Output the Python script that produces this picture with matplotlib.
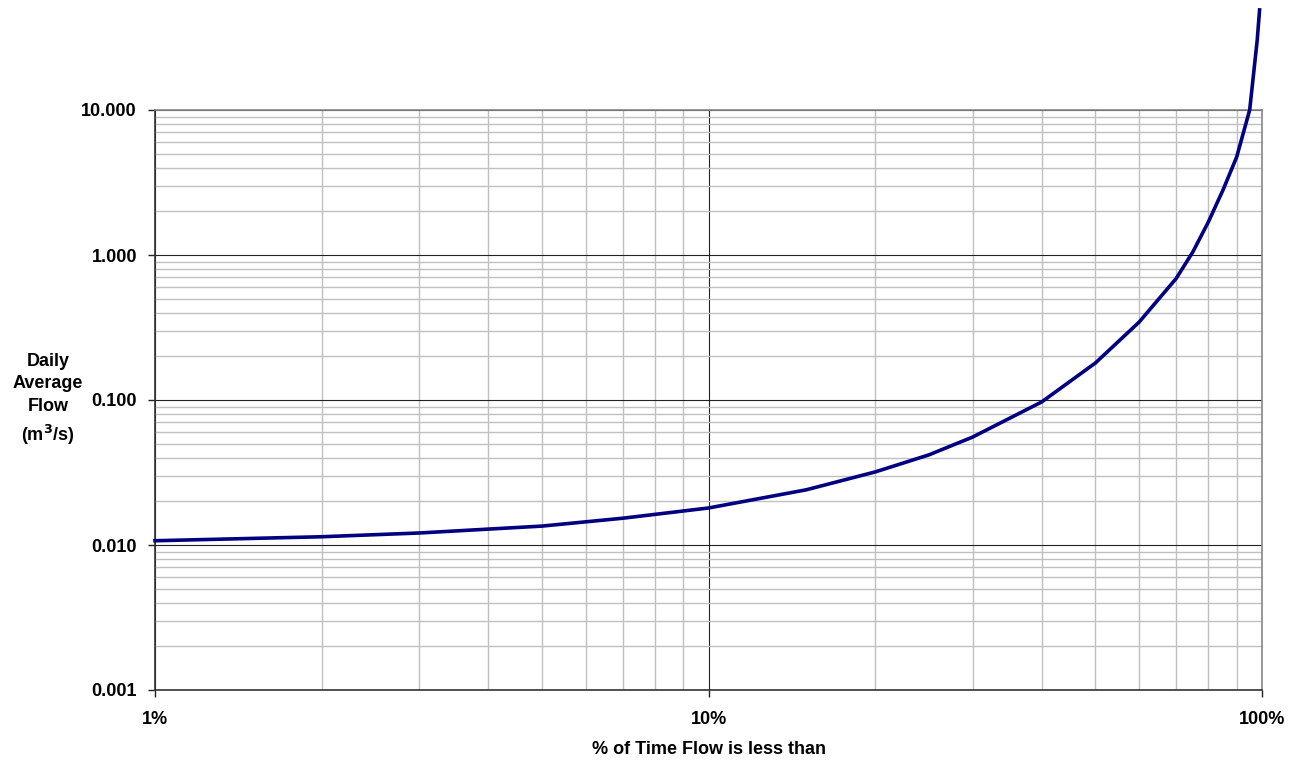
import matplotlib.pyplot as plt
from matplotlib.ticker import FixedLocator, NullFormatter, LogLocator

plt.rcParams['font.family'] = ['Liberation Sans', 'DejaVu Sans']
plt.rcParams['font.weight'] = 'bold'

# flow duration curve
pct_time = [1, 2, 3, 5, 7, 10, 15, 20, 25, 30, 40, 50, 60, 70, 75, 80, 85, 90, 95, 98, 99]
flow = [0.0107, 0.0114, 0.0121, 0.0135, 0.0153, 0.0180, 0.0240, 0.0319, 0.0418,
        0.0555, 0.097, 0.180, 0.345, 0.69, 1.05, 1.69, 2.8, 4.74, 10.0, 30.0, 49.0]

x_ticks = [1, 10, 100]
x_labels = ['1%', '10%', '100%']
y_ticks = [0.001, 0.01, 0.1, 1, 10]
y_labels = ['0.001', '0.010', '0.100', '1.000', '10.000']

fig = plt.figure(figsize=(13.07, 7.64), dpi=100)
ax = fig.add_axes([155 / 1307, 1 - 690 / 764, 1107 / 1307, 580 / 764])

ax.set_xscale('log')
ax.set_yscale('log')
ax.set_xlim(1, 100)
ax.set_ylim(0.001, 10)

ax.xaxis.set_major_locator(FixedLocator(x_ticks))
ax.set_xticklabels(x_labels)
ax.yaxis.set_major_locator(FixedLocator(y_ticks))
ax.set_yticklabels(y_labels)
ax.xaxis.set_minor_locator(LogLocator(base=10, subs=range(2, 10)))
ax.yaxis.set_minor_locator(LogLocator(base=10, subs=range(2, 10)))
ax.xaxis.set_minor_formatter(NullFormatter())
ax.yaxis.set_minor_formatter(NullFormatter())

ax.grid(which='minor', color='#c0c0c0', linewidth=1.0)
ax.grid(which='major', color='#222222', linewidth=0.8)
ax.set_axisbelow(True)

ax.tick_params(which='major', length=5, width=1, color='#222222', labelsize=13)
ax.tick_params(axis='y', pad=8)
ax.tick_params(axis='x', pad=10)
ax.tick_params(which='minor', length=0)

for s in ['left', 'bottom']:
    ax.spines[s].set_color('#333333')
    ax.spines[s].set_linewidth(1.2)
for s in ['top', 'right']:
    ax.spines[s].set_color('#888888')
    ax.spines[s].set_linewidth(1.2)

ax.plot(pct_time, flow, color='#000080', linewidth=2.6, clip_on=False, zorder=5)

fig.text(48 / 1307, 1 - 400 / 764, 'Daily\nAverage\nFlow\n(m$^\\mathbf{3}$/s)',
         ha='center', va='center', fontsize=13, fontweight='bold', linespacing=1.45)
fig.text(709 / 1307, 1 - 749 / 764, '% of Time Flow is less than',
         ha='center', va='center', fontsize=13, fontweight='bold')

fig.savefig('out.png', dpi=100)
